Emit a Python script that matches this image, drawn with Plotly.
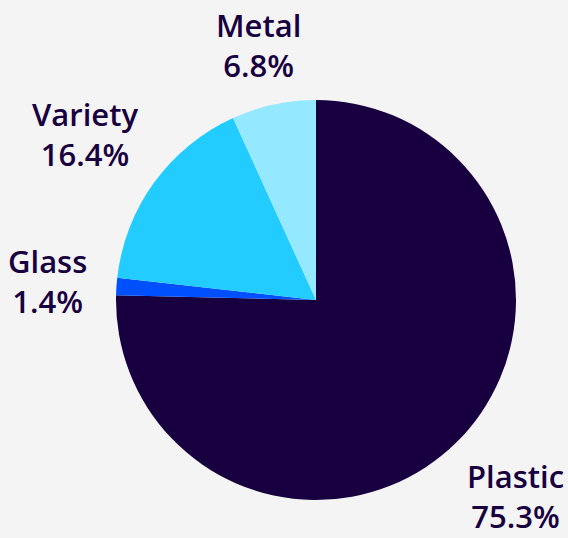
import numpy as np
import plotly.graph_objects as go

labels = ["Plastic", "Glass", "Variety", "Metal"]
values = [75.3, 1.4, 16.4, 6.8]
colors = ["#180040", "#0050ff", "#22ccff", "#94e8ff"]

W, H = 568, 538
# pie centre and radius in pixels
cx, cy, r = 316, 300, 200
label_r = 228
font_size = 31
char_w, block_h = 16.5, 65

fig = go.Figure(
    go.Pie(
        labels=labels,
        values=values,
        sort=False,
        direction="clockwise",
        rotation=0,
        marker=dict(colors=colors, line=dict(width=0)),
        textinfo="none",
        hoverinfo="label+value",
        domain=dict(x=[(cx - r) / W, (cx + r) / W], y=[(H - cy - r) / H, (H - cy + r) / H]),
        showlegend=False,
    )
)

# labels sit outside each slice, pushed out by their box along the mid angle
frac = np.array(values) / np.sum(values)
mid = (np.cumsum(frac) - frac / 2) * 2 * np.pi
for lab, val, a in zip(labels, values, mid):
    pct = f"{val:.1f}%"
    box_w = char_w * max(len(lab), len(pct))
    ux, uy = np.sin(a), -np.cos(a)
    px_x = cx + label_r * ux + ux * box_w / 2
    px_y = cy + label_r * uy + np.clip(1.7 * uy, -1, 1) * block_h / 2
    fig.add_annotation(
        x=px_x / W,
        y=1 - px_y / H,
        xref="paper",
        yref="paper",
        text=f"{lab}<br>{pct}",
        showarrow=False,
        align="center",
        xanchor="center",
        yanchor="middle",
        font=dict(family="Open Sans", size=font_size, color="#180040", weight=600),
    )

fig.update_layout(
    width=W,
    height=H,
    margin=dict(t=0, r=0, l=0, b=0),
    paper_bgcolor="#f4f4f4",
    plot_bgcolor="#f4f4f4",
    showlegend=False,
)

fig.write_html(
    "out.html",
    config={"displayModeBar": False},
    post_script="document.body.style.margin='0';document.body.style.background='#f4f4f4';",
)
